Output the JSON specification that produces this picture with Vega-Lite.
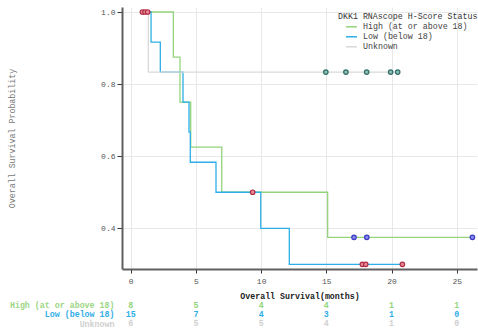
{
  "$schema": "https://vega.github.io/schema/vega-lite/v6.json",
  "padding": {"left": 6, "top": 7, "right": 0, "bottom": 0},
  "background": "white",
  "bounds": "flush",
  "spacing": 32,
  "config": {
    "font": "Liberation Mono",
    "view": {"stroke": null},
    "axis": {"labelFont": "Liberation Mono", "titleFont": "Liberation Mono"},
    "legend": {"labelFont": "Liberation Mono", "titleFont": "Liberation Mono"}
  },
  "datasets": {
    "curves": [
      {"group": "High (at or above 18)", "t": 0.85, "s": 1.0},
      {"group": "High (at or above 18)", "t": 3.27, "s": 0.875},
      {"group": "High (at or above 18)", "t": 3.78, "s": 0.75},
      {"group": "High (at or above 18)", "t": 4.6, "s": 0.625},
      {"group": "High (at or above 18)", "t": 6.98, "s": 0.5},
      {"group": "High (at or above 18)", "t": 15.1, "s": 0.375},
      {"group": "High (at or above 18)", "t": 26.2, "s": 0.375},
      {"group": "Low (below 18)", "t": 0.85, "s": 1.0},
      {"group": "Low (below 18)", "t": 1.56, "s": 0.9167},
      {"group": "Low (below 18)", "t": 2.27, "s": 0.8333},
      {"group": "Low (below 18)", "t": 4.01, "s": 0.75},
      {"group": "Low (below 18)", "t": 4.47, "s": 0.6667},
      {"group": "Low (below 18)", "t": 4.57, "s": 0.5833},
      {"group": "Low (below 18)", "t": 6.54, "s": 0.5},
      {"group": "Low (below 18)", "t": 9.97, "s": 0.4},
      {"group": "Low (below 18)", "t": 12.16, "s": 0.3},
      {"group": "Low (below 18)", "t": 20.83, "s": 0.3},
      {"group": "Unknown", "t": 0.85, "s": 1.0},
      {"group": "Unknown", "t": 1.35, "s": 0.8333},
      {"group": "Unknown", "t": 20.47, "s": 0.8333}
    ],
    "censor": [
      {"group": "Low (below 18)", "t": 0.9, "s": 1.0},
      {"group": "Low (below 18)", "t": 1.1, "s": 1.0},
      {"group": "Low (below 18)", "t": 1.3, "s": 1.0},
      {"group": "Low (below 18)", "t": 9.35, "s": 0.5},
      {"group": "Low (below 18)", "t": 17.76, "s": 0.3},
      {"group": "Low (below 18)", "t": 18.02, "s": 0.3},
      {"group": "Low (below 18)", "t": 20.83, "s": 0.3},
      {"group": "High (at or above 18)", "t": 17.12, "s": 0.375},
      {"group": "High (at or above 18)", "t": 18.1, "s": 0.375},
      {"group": "High (at or above 18)", "t": 26.2, "s": 0.375},
      {"group": "Unknown", "t": 14.96, "s": 0.8333},
      {"group": "Unknown", "t": 16.5, "s": 0.8333},
      {"group": "Unknown", "t": 18.09, "s": 0.8333},
      {"group": "Unknown", "t": 19.93, "s": 0.8333},
      {"group": "Unknown", "t": 20.47, "s": 0.8333}
    ],
    "risk": [
      {"group": "High (at or above 18)", "t": 0, "n": 8},
      {"group": "High (at or above 18)", "t": 5, "n": 5},
      {"group": "High (at or above 18)", "t": 10, "n": 4},
      {"group": "High (at or above 18)", "t": 15, "n": 4},
      {"group": "High (at or above 18)", "t": 20, "n": 1},
      {"group": "High (at or above 18)", "t": 25, "n": 1},
      {"group": "Low (below 18)", "t": 0, "n": 15},
      {"group": "Low (below 18)", "t": 5, "n": 7},
      {"group": "Low (below 18)", "t": 10, "n": 4},
      {"group": "Low (below 18)", "t": 15, "n": 3},
      {"group": "Low (below 18)", "t": 20, "n": 1},
      {"group": "Low (below 18)", "t": 25, "n": 0},
      {"group": "Unknown", "t": 0, "n": 6},
      {"group": "Unknown", "t": 5, "n": 5},
      {"group": "Unknown", "t": 10, "n": 5},
      {"group": "Unknown", "t": 15, "n": 4},
      {"group": "Unknown", "t": 20, "n": 1},
      {"group": "Unknown", "t": 25, "n": 0}
    ]
  },
  "resolve": {"scale": {"color": "independent", "x": "independent", "y": "independent"}, "legend": {"color": "independent"}},
  "vconcat": [
    {
      "width": 355,
      "height": 262,
      "layer": [
        {
          "data": {"name": "curves"},
          "mark": {"type": "line", "interpolate": "step-after", "strokeWidth": 1.3},
          "encoding": {
            "x": {
              "field": "t", "type": "quantitative",
              "scale": {"domain": [-0.667, 26.55], "nice": false, "zero": false},
              "axis": {
                "values": [0, 5, 10, 15, 20, 25],
                "title": "Overall Survival(months)",
                "titleFontSize": 8.3, "titleFontWeight": "bold", "titleColor": "#222",
                "titleY": 27, "titleBaseline": "middle",
                "labelFontSize": 8, "labelColor": "#555", "labelPadding": 4,
                "tickSize": 4, "tickColor": "#333",
                "domainColor": "#606060", "domainWidth": 2,
                "gridColor": "#e8e8e8", "gridWidth": 1
              }
            },
            "y": {
              "field": "s", "type": "quantitative",
              "scale": {"domain": [0.2871, 1.0139], "nice": false, "zero": false},
              "axis": {
                "values": [0.4, 0.6, 0.8, 1.0],
                "format": ".1f",
                "title": "Overall Survival Probability",
                "titleFontSize": 8.3, "titleFontWeight": "normal", "titleColor": "#777",
                "titleX": -110, "titleY": 131, "titleAlign": "center", "titleBaseline": "middle", "titleAngle": -90,
                "labelFontSize": 8, "labelColor": "#555", "labelPadding": 2,
                "tickSize": 5, "tickColor": "#333",
                "domainColor": "#606060", "domainWidth": 2,
                "gridColor": "#e8e8e8", "gridWidth": 1
              }
            },
            "color": {
              "field": "group", "type": "nominal",
              "scale": {"domain": ["High (at or above 18)", "Low (below 18)", "Unknown"], "range": ["#93d47c", "#2eaee6", "#d9d9d9"]},
              "legend": {
                "title": "DKK1 RNAscope H-Score Status",
                "orient": "none", "legendX": 216, "legendY": 5,
                "padding": 0,
                "titleFontSize": 8.3, "titleFontWeight": "normal", "titleColor": "#333", "titlePadding": 0,
                "labelFontSize": 8.3, "labelColor": "#444", "labelOffset": 5,
                "symbolType": "stroke", "symbolSize": 121, "symbolStrokeWidth": 1.5, "symbolOffset": 7,
                "rowPadding": -1.3
              }
            }
          }
        },
        {
          "data": {"name": "censor"},
          "mark": {"type": "point", "shape": "circle", "size": 20, "strokeWidth": 1.2, "filled": false, "opacity": 1},
          "encoding": {
            "x": {"field": "t", "type": "quantitative"},
            "y": {"field": "s", "type": "quantitative"},
            "fill": {
              "field": "group", "type": "nominal",
              "scale": {"domain": ["High (at or above 18)", "Low (below 18)", "Unknown"], "range": ["#8a8af0", "#e88a96", "#8fbcb5"]},
              "legend": null
            },
            "stroke": {
              "field": "group", "type": "nominal",
              "scale": {"domain": ["High (at or above 18)", "Low (below 18)", "Unknown"], "range": ["#3c3cc0", "#b02c44", "#2e7068"]},
              "legend": null
            }
          }
        }
      ]
    },
    {
      "width": 355,
      "height": 27.6,
      "data": {"name": "risk"},
      "mark": {"type": "text", "fontSize": 8.3, "fontWeight": "bold", "align": "center", "baseline": "middle"},
      "encoding": {
        "x": {
          "field": "t", "type": "quantitative",
          "scale": {"domain": [-0.667, 26.55], "nice": false, "zero": false},
          "axis": null
        },
        "y": {
          "field": "group", "type": "nominal",
          "sort": ["High (at or above 18)", "Low (below 18)", "Unknown"],
          "scale": {"paddingInner": 0, "paddingOuter": 0},
          "axis": {
            "title": null, "domain": false, "ticks": false, "grid": false,
            "labelPadding": 8, "labelFontSize": 8.3, "labelFontWeight": "bold",
            "labelColor": {
              "condition": [
                {"test": "datum.value === 'High (at or above 18)'", "value": "#9cd685"},
                {"test": "datum.value === 'Low (below 18)'", "value": "#33aee6"}
              ],
              "value": "#d0d0d0"
            }
          }
        },
        "text": {"field": "n", "type": "quantitative"},
        "color": {
          "field": "group", "type": "nominal",
          "scale": {"domain": ["High (at or above 18)", "Low (below 18)", "Unknown"], "range": ["#93d47c", "#2eaee6", "#d0d0d0"]},
          "legend": null
        }
      }
    }
  ]
}
